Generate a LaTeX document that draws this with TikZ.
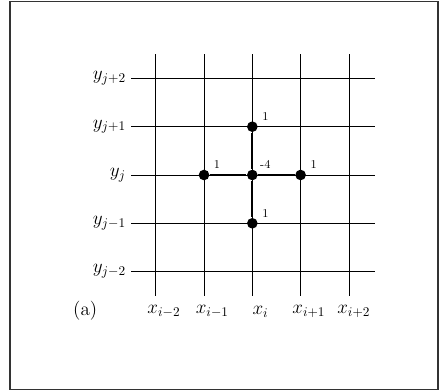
\documentclass[tikz,border=0pt]{standalone}
\begin{document}
\begin{tikzpicture}[x=1.278cm, y=1.278cm, thick]
  % Stili
  \tikzset{punto/.style={circle, fill, inner sep=0pt, minimum size=8pt},
           peso/.style={font=\small, inner sep=0pt},
           griglia/.style={line width=0.6pt},
           etichetta/.style={font=\Large, inner sep=1pt}}
  \useasboundingbox (-5.224,-4.472) rectangle (3.865,3.623);
  \draw[line width=0.8pt, black!80] (-5.017,-4.44) rectangle (3.845,3.60);

  % Griglia
  \foreach \k in {-2,...,2} {
    \draw[griglia] (\k,-2.5) -- (\k,2.5);
    \draw[griglia] (-2.51,\k) -- (2.53,\k);
  }

  % Etichette degli assi
  \node[etichetta, anchor=east] (ym2) at (-2.58,-2) {$y_{j-2}$};
  \node[etichetta, anchor=east] (ym1) at (-2.58,-1) {$y_{j-1}$};
  \node[etichetta, anchor=east] (y0)  at (-2.58,0)  {$y_{j}$};
  \node[etichetta, anchor=east] (yp1) at (-2.58,1)  {$y_{j+1}$};
  \node[etichetta, anchor=east] (yp2) at (-2.58,2)  {$y_{j+2}$};
  \node[etichetta] (xm2) at (-1.83,-2.83) {$x_{i-2}$};
  \node[etichetta] (xm1) at (-0.83,-2.83) {$x_{i-1}$};
  \node[etichetta] (x0)  at (0.17,-2.83)  {$x_{i}$};
  \node[etichetta] (xp1) at (1.17,-2.83)  {$x_{i+1}$};
  \node[etichetta] (xp2) at (2.1,-2.83)   {$x_{i+2}$};
  \node[font=\Large] (a) at (-3.46,-2.8) {(a)};

  % Nodi dello stencil
  \node[punto] (c) at (0,0)  {};
  \node[punto] (n) at (0,1)  {};
  \node[punto] (s) at (0,-1) {};
  \node[punto] (o) at (-1,0) {};
  \node[punto] (e) at (1,0)  {};

  % Archi
  \draw[line width=1.5pt] (o) -- (c) -- (e);
  \draw[line width=1.5pt] (n) -- (c) -- (s);

  % Pesi
  \node[peso] (pc) at ([shift={(0.27,0.21)}]c.center) {-4};
  \node[peso] (pn) at ([shift={(0.27,0.21)}]n.center) {1};
  \node[peso] (ps) at ([shift={(0.27,0.21)}]s.center) {1};
  \node[peso] (po) at ([shift={(0.27,0.21)}]o.center) {1};
  \node[peso] (pe) at ([shift={(0.27,0.21)}]e.center) {1};
\end{tikzpicture}
\end{document}
